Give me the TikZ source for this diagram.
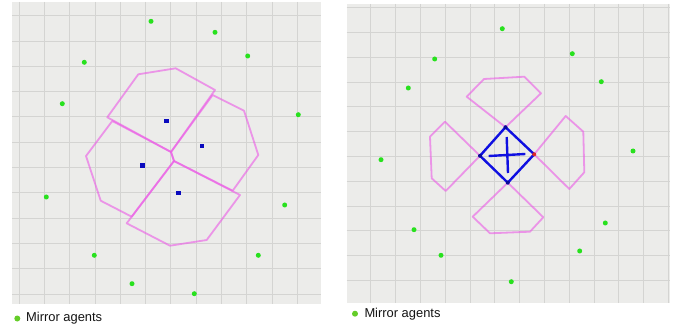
\documentclass[tikz,border=0pt]{standalone}
\usepackage{fontspec}
\setmainfont{Liberation Sans}
\begin{document}
\begin{tikzpicture}[x=1pt,y=-1pt,
  panel/.style={fill={rgb,255:red,236;green,236;blue,234}, draw=none},
  gridline/.style={draw={rgb,255:red,212;green,212;blue,210}, line width=0.8pt},
  mirror/.style={circle, fill={rgb,255:red,40;green,225;blue,30}, inner sep=0pt, minimum size=5pt},
  legdot/.style={circle, fill={rgb,255:red,100;green,205;blue,40}, inner sep=0pt, minimum size=6pt},
  agent/.style={rectangle, fill={rgb,255:red,10;green,10;blue,190}, inner sep=0pt, minimum size=4.5pt},
  cell/.style={draw={rgb,255:red,235;green,90;blue,230}, draw opacity=0.6, line width=1.8pt, line join=round},
  diam/.style={draw={rgb,255:red,15;green,15;blue,225}, line width=2.4pt, line join=round},
  vtx/.style={circle, fill={rgb,255:red,10;green,10;blue,150}, inner sep=0pt, minimum size=4pt},
  redvtx/.style={circle, fill={rgb,255:red,220;green,40;blue,40}, inner sep=0pt, minimum size=4pt},
  legtext/.style={anchor=west, inner sep=0pt, font=\fontsize{12.9}{14}\selectfont, text={rgb,255:red,20;green,20;blue,20}}]
\useasboundingbox (0,0) rectangle (683,331);
\fill[white] (0,0) rectangle (683,331);

% ---------- left panel ----------
\path[panel] (12,2) rectangle (321,304);
\begin{scope}
\clip (12,2) rectangle (321,304);
\foreach \k in {0,...,11} {
  \draw[gridline] ({19+25.3*\k},2) -- ({19+25.3*\k},304);
  \draw[gridline] (12,{15.7+25.3*\k}) -- (321,{15.7+25.3*\k});
}
\end{scope}

\coordinate (J1) at (171,152);
\coordinate (J2) at (174,161);
% top cell
\draw[cell] (107.3,117.3) -- (138.3,74.3) -- (175.7,68.3) -- (215,90) -- (J1) -- cycle;
% right cell
\draw[cell] (212.7,95) -- (244,110.7) -- (258.3,155) -- (232.7,190.7) -- (J2) -- (J1) -- cycle;
% bottom cell
\draw[cell] (J2) -- (240,195) -- (206.7,240) -- (170,245.7) -- (126.7,223.3) -- cycle;
% left cell
\draw[cell] (112.3,121) -- (86,156) -- (100.7,200.7) -- (131.7,216.7) -- (J2) -- (J1) -- cycle;

\node[agent] (a1) at (166.7,121) {};
\node[agent] (a2) at (202,146) {};
\node[agent] (a3) at (142.7,165.3) {};
\node[agent] (a4) at (178.3,193) {};

\node[mirror] (m1) at (151,21.3) {};
\node[mirror] (m2) at (215,32.3) {};
\node[mirror] (m3) at (247.7,56) {};
\node[mirror] (m4) at (84.3,62.3) {};
\node[mirror] (m5) at (62.3,103.7) {};
\node[mirror] (m6) at (298.3,114.7) {};
\node[mirror] (m7) at (46.3,197) {};
\node[mirror] (m8) at (284.7,205) {};
\node[mirror] (m9) at (94.3,255.3) {};
\node[mirror] (m10) at (258.3,255.3) {};
\node[mirror] (m11) at (132,283.7) {};
\node[mirror] (m12) at (194.3,293.7) {};

\node[legdot] (ld1) at (17.3,318.5) {};
\node[legtext] (lt1) at (26,318.5) {Mirror agents};

% ---------- right panel ----------
\path[panel] (346.7,4) rectangle (670,302.7);
\begin{scope}
\clip (346.7,4) rectangle (670,302.7);
\foreach \k in {0,...,12} {
  \draw[gridline] ({370.7+24.8*\k},4) -- ({370.7+24.8*\k},302.7);
  \draw[gridline] (346.7,{7.7+24.8*\k}) -- (670,{7.7+24.8*\k});
}
\end{scope}

\coordinate (T) at (505.5,127.2);
\coordinate (R) at (534.2,154.3);
\coordinate (B) at (507.8,182.7);
\coordinate (L) at (480,155.8);
% petals
\draw[cell] (T) -- (466.7,96.7) -- (484,79) -- (524.3,76.7) -- (541,93.3) -- cycle;
\draw[cell] (R) -- (565.7,116) -- (583.3,131.7) -- (584.3,172.3) -- (569.3,189) -- cycle;
\draw[cell] (B) -- (543.3,217.3) -- (530,231.7) -- (490,233.3) -- (472.7,216.7) -- cycle;
\draw[cell] (L) -- (445,121.7) -- (430,136.7) -- (431.7,178.3) -- (445.7,191) -- cycle;

\draw[diam] (T) -- (R) -- (B) -- (L) -- cycle;
\coordinate (h1) at (488.7,156);
\coordinate (h2) at (525.3,154);
\coordinate (v1) at (506.7,137);
\coordinate (v2) at (508,173);
\draw[diam] (h1) -- (h2);
\draw[diam] (v1) -- (v2);
\node[vtx] (nT) at (T) {};
\node[vtx] (nB) at (B) {};
\node[vtx] (nL) at (L) {};
\node[redvtx] (nR) at (R) {};

\node[mirror] (r1) at (502.3,28.7) {};
\node[mirror] (r2) at (572.3,53.7) {};
\node[mirror] (r3) at (434.7,59) {};
\node[mirror] (r4) at (601.3,81.7) {};
\node[mirror] (r5) at (408.3,88) {};
\node[mirror] (r6) at (633,151) {};
\node[mirror] (r7) at (381,159.7) {};
\node[mirror] (r8) at (605.3,223) {};
\node[mirror] (r9) at (414,229.7) {};
\node[mirror] (r10) at (579.7,251) {};
\node[mirror] (r11) at (441,255.3) {};
\node[mirror] (r12) at (511.3,281.7) {};

\node[legdot] (ld2) at (355,313.7) {};
\node[legtext] (lt2) at (364.3,313.7) {Mirror agents};
\end{tikzpicture}
\end{document}
